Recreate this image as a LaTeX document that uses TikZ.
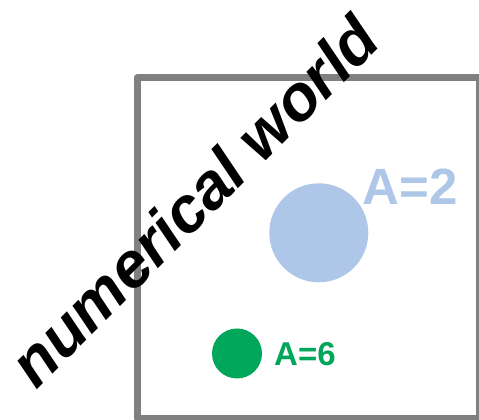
\documentclass[tikz,border=0pt]{standalone}
\usepackage{fontspec}
\setmainfont{Liberation Sans}
\usepackage{xcolor}
\definecolor{framegray}{HTML}{808080}
\definecolor{lightblue}{HTML}{AEC7E8}
\definecolor{darkgreen}{HTML}{00A65A}

\begin{document}
\begin{tikzpicture}[x=1pt,y=1pt]
        \useasboundingbox (0,0) rectangle (479,420);

        % 枠
        \draw[framegray, line width=7.5pt, line join=round] (137.5,342.5) rectangle (479.5,1.5);

        % 円
        \fill[lightblue] (318.8,187.2) circle (49.5);
        \fill[darkgreen] (237,66.5) circle (25);

        % ラベル
        \node[anchor=base west, inner sep=0, text=lightblue, font=\bfseries\fontsize{51}{51}\selectfont] (labelA) at (362.3,215) {A=2};
        \node[anchor=base west, inner sep=0, text=darkgreen, font=\bfseries\fontsize{33}{33}\selectfont] (labelB) at (274,54) {A=6};

        % タイトル
        \node[anchor=base, inner sep=0, rotate=45, font=\bfseries\itshape\fontsize{64}{64}\selectfont] (title) at (210,203) {numerical world};
      \end{tikzpicture}
\end{document}
